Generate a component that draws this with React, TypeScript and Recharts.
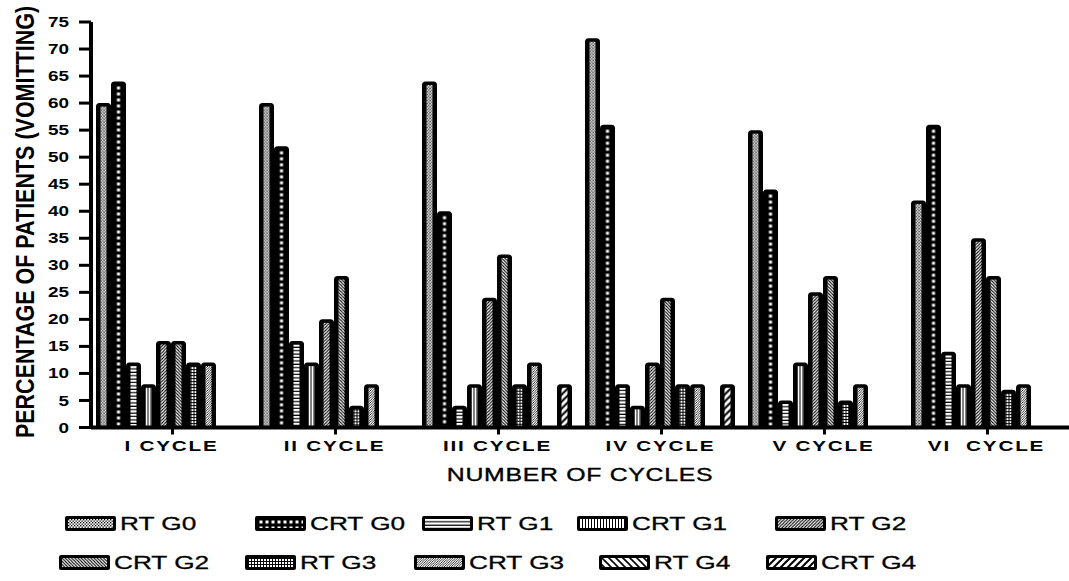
import React from 'react';
import { BarChart, Bar, XAxis, YAxis } from 'recharts';

// categories on the x axis (note the double space in the last one, as printed)
const categories = ['I CYCLE', 'II CYCLE', 'III CYCLE', 'IV CYCLE', 'V CYCLE', 'VI  CYCLE'];

// percentage of patients per grade, one value per cycle
const rtG0 = [60, 60, 64, 72, 55, 42];
const crtG0 = [64, 52, 40, 56, 44, 56];
const rtG1 = [12, 16, 4, 8, 5, 14];
const crtG1 = [8, 12, 8, 4, 12, 8];
const rtG2 = [16, 20, 24, 12, 25, 35];
const crtG2 = [16, 28, 32, 24, 28, 28];
const rtG3 = [12, 4, 8, 8, 5, 7];
const crtG3 = [12, 8, 12, 8, 8, 8];
const rtG4 = [0, 0, 0, 0, 0, 0];
const crtG4 = [0, 0, 8, 8, 0, 0];

const yTicks = [0, 5, 10, 15, 20, 25, 30, 35, 40, 45, 50, 55, 60, 65, 70, 75];

const SERIES = [
  { key: 'rtG0', name: 'RT G0', values: rtG0, kind: 'dots' },
  { key: 'crtG0', name: 'CRT G0', values: crtG0, kind: 'squares' },
  { key: 'rtG1', name: 'RT G1', values: rtG1, kind: 'hlines' },
  { key: 'crtG1', name: 'CRT G1', values: crtG1, kind: 'vlines' },
  { key: 'rtG2', name: 'RT G2', values: rtG2, kind: 'diagFwd' },
  { key: 'crtG2', name: 'CRT G2', values: crtG2, kind: 'diagBack' },
  { key: 'rtG3', name: 'RT G3', values: rtG3, kind: 'grid' },
  { key: 'crtG3', name: 'CRT G3', values: crtG3, kind: 'fine' },
  { key: 'rtG4', name: 'RT G4', values: rtG4, kind: 'wideBack' },
  { key: 'crtG4', name: 'CRT G4', values: crtG4, kind: 'wideFwd' },
];

const data = categories.map((cycle, i) => {
  const row: Record<string, string | number> = { cycle };
  SERIES.forEach((s) => {
    row[s.key] = s.values[i];
  });
  return row;
});

// legend layout (two rows of five)
const LEGEND_X = [
  [65, 255, 422, 577, 775],
  [59, 245, 414, 599, 766],
];
const LEGEND_Y = [516, 555];

const FONT = '"Liberation Sans", Arial, sans-serif';
const STRETCH = 1.38;

function diag(size: number, sw: number, fwd: boolean) {
  const s = size;
  const d = fwd
    ? `M0,${s} L${s},0 M${-s / 4},${s / 4} L${s / 4},${-s / 4} M${s * 0.75},${s * 1.25} L${s * 1.25},${s * 0.75}`
    : `M0,0 L${s},${s} M${s * 0.75},${-s / 4} L${s * 1.25},${s / 4} M${-s / 4},${s * 0.75} L${s / 4},${s * 1.25}`;
  return (
    <>
      <rect width={s} height={s} fill="#fff" />
      <path d={d} stroke="#000" strokeWidth={sw} />
    </>
  );
}

function renderPattern(kind: string, id: string, ox: number, oy: number) {
  const base = { id, x: ox, y: oy, patternUnits: 'userSpaceOnUse' as const };
  switch (kind) {
    case 'dots':
      return (
        <pattern {...base} width={3} height={3}>
          <rect width={3} height={3} fill="#fff" />
          <rect width={1.3} height={1.3} fill="#000" />
          <rect x={1.5} y={1.5} width={1.3} height={1.3} fill="#000" />
        </pattern>
      );
    case 'squares':
      return (
        <pattern {...base} width={6} height={6}>
          <rect width={6} height={6} fill="#000" />
          <rect x={1.5} y={1.5} width={3} height={3} fill="#fff" />
        </pattern>
      );
    case 'hlines':
      return (
        <pattern {...base} width={6} height={3.4}>
          <rect width={6} height={3.4} fill="#fff" />
          <rect y={2.2} width={6} height={1.2} fill="#000" />
        </pattern>
      );
    case 'vlines':
      return (
        <pattern {...base} width={3} height={4}>
          <rect width={3} height={4} fill="#fff" />
          <rect x={2} width={1} height={4} fill="#000" />
        </pattern>
      );
    case 'diagFwd':
      return (
        <pattern {...base} width={3.2} height={3.2}>
          {diag(3.2, 1, true)}
        </pattern>
      );
    case 'diagBack':
      return (
        <pattern {...base} width={3.2} height={3.2}>
          {diag(3.2, 1, false)}
        </pattern>
      );
    case 'grid':
      return (
        <pattern {...base} width={3} height={3}>
          <rect width={3} height={3} fill="#fff" />
          <rect width={3} height={1} fill="#000" />
          <rect width={1} height={3} fill="#000" />
        </pattern>
      );
    case 'fine':
      return (
        <pattern {...base} width={2.4} height={2.4}>
          {diag(2.4, 0.8, true)}
        </pattern>
      );
    case 'wideBack':
      return (
        <pattern {...base} width={7} height={7}>
          {diag(7, 1.6, false)}
        </pattern>
      );
    default:
      return (
        <pattern {...base} width={7} height={7}>
          {diag(7, 2, true)}
        </pattern>
      );
  }
}

const makeShape = (kind: string) => (props: any) => {
  const { x, y, width, height, index } = props;
  if (!height || height <= 0) return <g />;
  const id = `bar-${kind}-${index}`;
  const r = 3.5;
  const ix = x + 4.5;
  const iy = y + 3.5;
  const iw = width - 9;
  const ih = height - 3.5;
  const d = `M${x},${y + height} L${x},${y + r} Q${x},${y} ${x + r},${y} L${x + width - r},${y} Q${x + width},${y} ${x + width},${y + r} L${x + width},${y + height} Z`;
  return (
    <g>
      <defs>{renderPattern(kind, id, ix, iy)}</defs>
      <path d={d} fill="#000" />
      {ih > 0 && iw > 0 && <rect x={ix} y={iy} width={iw} height={ih} fill={`url(#${id})`} />}
    </g>
  );
};

const XTick = (props: any) => {
  const { x, y, payload } = props;
  return (
    <text
      transform={`translate(${x - 1},${y + 14}) scale(${STRETCH},1)`}
      textAnchor="middle"
      fontFamily={FONT}
      fontWeight="bold"
      fontSize={15}
      letterSpacing={1.3}
      fill="#000"
      style={{ whiteSpace: 'pre' }}
    >
      {payload.value}
    </text>
  );
};

const YTick = (props: any) => {
  const { x, y, payload } = props;
  return (
    <text
      transform={`translate(${x},${y}) scale(1.35,1)`}
      textAnchor="end"
      dy="0.36em"
      fontFamily={FONT}
      fontWeight="bold"
      fontSize={14}
      fill="#000"
    >
      {payload.value}
    </text>
  );
};

const yTitle = () => (
  <text
    transform="translate(34,222) scale(1.2,1) rotate(-90)"
    textAnchor="middle"
    fontFamily={FONT}
    fontWeight="bold"
    fontSize={21.5}
    fill="#000"
  >
    PERCENTAGE OF PATIENTS (VOMITTING)
  </text>
);

const xTitle = () => (
  <text
    transform={`translate(580,481) scale(${STRETCH},1)`}
    textAnchor="middle"
    fontFamily={FONT}
    fontSize={18}
    letterSpacing={0.5}
    fill="#000"
    stroke="#000"
    strokeWidth={0.35}
  >
    NUMBER OF CYCLES
  </text>
);

function LegendOverlay() {
  return (
    <svg width={1069} height={581} style={{ position: 'absolute', left: 0, top: 0, pointerEvents: 'none' }}>
      {SERIES.map((s, i) => {
        const row = Math.floor(i / 5);
        const col = i % 5;
        const sx = LEGEND_X[row][col];
        const sy = LEGEND_Y[row];
        const id = `leg-${s.kind}`;
        return (
          <g key={s.key}>
            <defs>{renderPattern(s.kind, id, sx + 3, sy + 3)}</defs>
            <rect x={sx} y={sy} width={51} height={15} rx={2} fill="#000" />
            <rect x={sx + 3} y={sy + 3} width={45} height={9} fill={`url(#${id})`} />
            <text
              transform={`translate(${sx + 55},${sy + 13.5}) scale(${STRETCH},1)`}
              fontFamily={FONT}
              fontSize={19}
              fill="#000"
              stroke="#000"
              strokeWidth={0.3}
            >
              {s.name}
            </text>
          </g>
        );
      })}
    </svg>
  );
}

export default function App() {
  return (
    <div style={{ position: 'absolute', left: 0, top: 0, width: 1069, height: 581, background: '#fff', fontFamily: FONT }}>
      <BarChart
        width={1069}
        height={581}
        data={data}
        margin={{ top: 22, right: 0, bottom: 123.5, left: 0 }}
        barCategoryGap={5}
        barGap={0}
      >
        <XAxis
          dataKey="cycle"
          height={30}
          interval={0}
          axisLine={{ stroke: '#000', strokeWidth: 4 }}
          tickLine={{ stroke: '#000', strokeWidth: 3 }}
          tickSize={7}
          tick={<XTick />}
          label={xTitle}
        />
        <YAxis
          width={91}
          domain={[0, 75]}
          ticks={yTicks}
          interval={0}
          axisLine={{ stroke: '#000', strokeWidth: 4 }}
          tickLine={{ stroke: '#000', strokeWidth: 3 }}
          tickSize={12}
          tickMargin={10}
          tick={<YTick />}
          label={yTitle}
        />
        {SERIES.map((s) => (
          <Bar key={s.key} dataKey={s.key} name={s.name} isAnimationActive={false} shape={makeShape(s.kind)} />
        ))}
      </BarChart>
      <LegendOverlay />
    </div>
  );
}
